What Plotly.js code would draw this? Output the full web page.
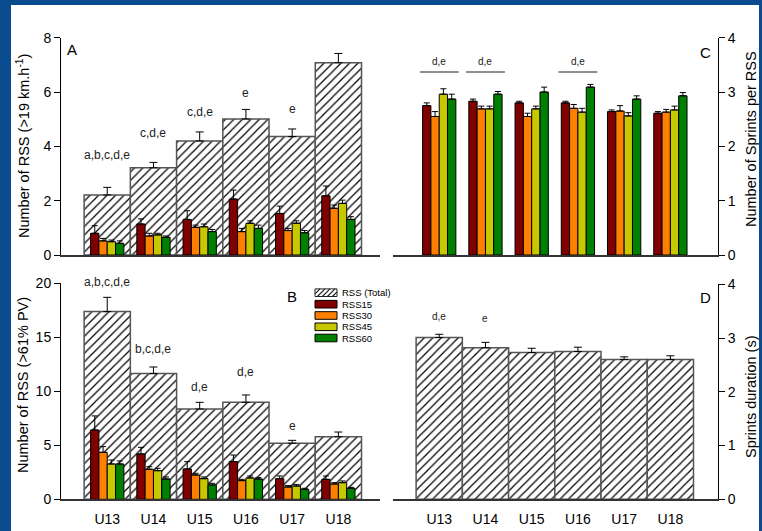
<!DOCTYPE html>
<html>
<head>
<meta charset="utf-8">
<script src="https://cdn.plot.ly/plotly-3.0.1.min.js"></script>
<style>html,body{margin:0;padding:0;background:#0a4a8f;}#plot{width:762px;height:531px;}</style>
</head>
<body>
<div id="plot"></div>
<script>
// ---------- DATA ----------
const categories = ['U13', 'U14', 'U15', 'U16', 'U17', 'U18'];
const seriesNames = ['RSS15', 'RSS30', 'RSS45', 'RSS60'];
const totalName = 'RSS (Total)';

// Panel A: Number of RSS (>19 km.h-1)
const aTotal    = [2.21, 3.21, 4.20, 5.01, 4.36, 7.08];
const aTotalErr = [0.28, 0.20, 0.33, 0.35, 0.28, 0.34];
const a15    = [0.80, 1.14, 1.31, 2.06, 1.53, 2.18];
const a15Err = [0.28, 0.19, 0.32, 0.33, 0.27, 0.36];
const a30    = [0.52, 0.70, 1.02, 0.86, 0.90, 1.72];
const a30Err = [0.09, 0.10, 0.08, 0.12, 0.08, 0.12];
const a45    = [0.49, 0.74, 1.04, 1.17, 1.17, 1.90];
const a45Err = [0.06, 0.06, 0.10, 0.09, 0.09, 0.12];
const a60    = [0.43, 0.65, 0.86, 0.98, 0.82, 1.31];
const a60Err = [0.09, 0.05, 0.08, 0.12, 0.08, 0.10];

// Panel B: Number of RSS (>61% PV)
const bTotal    = [17.38, 11.64, 8.36, 8.98, 5.19, 5.80];
const bTotalErr = [1.32, 0.61, 0.62, 0.68, 0.27, 0.43];
const b15    = [6.42, 4.20, 2.81, 3.49, 1.91, 1.85];
const b15Err = [1.30, 0.61, 0.68, 0.61, 0.25, 0.31];
const b30    = [4.35, 2.78, 2.25, 1.73, 1.14, 1.42];
const b30Err = [0.53, 0.24, 0.16, 0.12, 0.13, 0.12];
const b45    = [3.27, 2.65, 1.91, 1.98, 1.23, 1.54];
const b45Err = [0.37, 0.22, 0.16, 0.18, 0.13, 0.16];
const b60    = [3.27, 1.88, 1.33, 1.88, 0.93, 1.02];
const b60Err = [0.28, 0.19, 0.15, 0.13, 0.09, 0.09];

// Panel C: Number of Sprints per RSS
const c15    = [2.75, 2.83, 2.80, 2.80, 2.64, 2.61];
const c15Err = [0.05, 0.04, 0.03, 0.03, 0.03, 0.03];
const c30    = [2.55, 2.69, 2.55, 2.70, 2.65, 2.63];
const c30Err = [0.09, 0.05, 0.06, 0.07, 0.10, 0.05];
const c45    = [2.96, 2.69, 2.69, 2.63, 2.56, 2.67];
const c45Err = [0.10, 0.05, 0.05, 0.07, 0.06, 0.07];
const c60    = [2.87, 2.96, 3.00, 3.09, 2.87, 2.93];
const c60Err = [0.09, 0.05, 0.09, 0.05, 0.06, 0.06];

// Panel D: Sprints duration (s)
const dTotal    = [3.01, 2.82, 2.73, 2.75, 2.60, 2.60];
const dTotalErr = [0.06, 0.10, 0.08, 0.08, 0.05, 0.07];

// Axis ranges
const aRange = [0, 8];
const bRange = [0, 20];
const cRange = [0, 4];
const dRange = [0, 4];

// Significance labels
const aSigCats = ['U13', 'U14', 'U15', 'U16', 'U17'];
const aSigText = ['a,b,c,d,e', 'c,d,e', 'c,d,e', 'e', 'e'];
const aSigY    = [3.68, 4.48, 5.28, 5.98, 5.36];
const bSigCats = ['U13', 'U14', 'U15', 'U16', 'U17'];
const bSigText = ['a,b,c,d,e', 'b,c,d,e', 'd,e', 'd,e', 'e'];
const bSigY    = [20.15, 13.9, 10.37, 11.79, 6.82];
const cSigCats = ['U13', 'U14', 'U16'];
const cSigText = ['d,e', 'd,e', 'd,e'];
const cSigY    = [3.56, 3.56, 3.56];
const cSigLineY = 3.37;
const dSigCats = ['U13', 'U14'];
const dSigText = ['d,e', 'e'];
const dSigY    = [3.41, 3.37];

// ---------- STYLE ----------
const colors = ['#800000', '#ff8000', '#c8c800', '#008000'];
const FONT = 'Liberation Sans, Arial, Helvetica, sans-serif';
const X = p => p / 762;
const Y = p => 1 - p / 531;
const subOffsets = [-0.36, -0.18, 0, 0.18];
const subWidth = 0.18;

function errUp(arr, w) {
  return {type: 'data', symmetric: false, array: arr, arrayminus: arr.map(() => 0),
          color: '#000', thickness: 1, width: w};
}
function totalTrace(vals, errs, xa, ya, name) {
  return {type: 'bar', x: categories, y: vals, name: name, xaxis: xa, yaxis: ya,
    width: 1, offset: -0.5,
    marker: {color: 'white', line: {color: '#555', width: 1.5},
      pattern: {shape: '/', fgcolor: '#000', bgcolor: 'white', size: 6, solidity: 0.2, fillmode: 'replace'}},
    error_y: errUp(errs, 4), hoverinfo: 'y'};
}
function subTraces(valsList, errList, xa, ya) {
  return valsList.map((v, i) => ({
    type: 'bar', x: categories, y: v, name: seriesNames[i], xaxis: xa, yaxis: ya,
    width: subWidth, offset: subOffsets[i],
    marker: {color: colors[i], line: {color: '#000', width: 1}},
    error_y: errUp(errList[i], 3), hoverinfo: 'y'
  }));
}

const data = [
  totalTrace(aTotal, aTotalErr, 'x', 'y', totalName),
  ...subTraces([a15, a30, a45, a60], [a15Err, a30Err, a45Err, a60Err], 'x', 'y'),
  totalTrace(bTotal, bTotalErr, 'x2', 'y2', totalName),
  ...subTraces([b15, b30, b45, b60], [b15Err, b30Err, b45Err, b60Err], 'x2', 'y2'),
  ...subTraces([c15, c30, c45, c60], [c15Err, c30Err, c45Err, c60Err], 'x3', 'y3'),
  totalTrace(dTotal, dTotalErr, 'x4', 'y4', 'Sprints duration')
];

const xBase = {type: 'category', showline: true, linecolor: '#333', linewidth: 1.5, ticks: '',
  showgrid: false, zeroline: false, fixedrange: true, categoryorder: 'array', categoryarray: categories,
  tickfont: {size: 14, color: '#000', family: FONT}, ticklabelstandoff: 6};
const yBase = {showline: true, linecolor: '#000', linewidth: 1, ticks: 'outside', ticklen: 6, tickwidth: 1,
  tickcolor: '#000', showgrid: false, zeroline: false, fixedrange: true,
  tickfont: {size: 14, color: '#000', family: FONT}};

const annotations = [];
function addText(x, y, text, size, opts) {
  annotations.push(Object.assign({x: x, y: y, xref: 'paper', yref: 'paper', text: text, showarrow: false,
    font: {size: size, color: '#000', family: FONT}, xanchor: 'center', yanchor: 'middle'}, opts || {}));
}
// panel letters
addText(X(72), Y(50), 'A', 15);
addText(X(292), Y(296), 'B', 15);
addText(X(705), Y(52), 'C', 15);
addText(X(705), Y(297), 'D', 15);
// axis titles
addText(X(23), Y(146), 'Number of RSS (>19 km.h<sup>-1</sup>)', 14.5, {textangle: -90});
addText(X(23), Y(385), 'Number of RSS (>61% PV)', 14.5, {textangle: -90});
addText(X(751), Y(139), 'Number of Sprints per RSS', 14.5, {textangle: -90});
addText(X(751), Y(397), 'Sprints duration (s)', 14.5, {textangle: -90});
// significance labels (positioned on the category axis, vertical position via axis-domain fraction)
function addSig(cats, texts, ys, xa, yaName, range, size) {
  cats.forEach((c, i) => annotations.push({x: c, y: (ys[i] - range[0]) / (range[1] - range[0]),
    xref: xa, yref: yaName + ' domain', text: texts[i], showarrow: false,
    font: {size: size, color: '#222', family: FONT}, xanchor: 'center', yanchor: 'middle'}));
}
addSig(aSigCats, aSigText, aSigY, 'x', 'y', aRange, 12);
addSig(bSigCats, bSigText, bSigY, 'x2', 'y2', bRange, 12);
addSig(cSigCats, cSigText, cSigY, 'x3', 'y3', cRange, 10);
addSig(dSigCats, dSigText, dSigY, 'x4', 'y4', dRange, 10);

// legend (manual, compact)
const legNames = [totalName].concat(seriesNames);
const legRowY = [292.7, 304.2, 315.5, 326.8, 338.0];
const shapes = [];
// white canvas inside the blue frame
shapes.push({type: 'rect', xref: 'paper', yref: 'paper', x0: X(11), x1: X(759), y0: -0.01, y1: Y(5),
  fillcolor: 'white', line: {width: 0}, layer: 'below'});
legNames.forEach((n, i) => {
  const cy = legRowY[i];
  const x0 = 315, x1 = 337, y0 = cy - 3.8, y1 = cy + 3.8;
  if (i === 0) {
    shapes.push({type: 'rect', xref: 'paper', yref: 'paper', x0: X(x0), x1: X(x1), y0: Y(y1), y1: Y(y0),
      fillcolor: 'white', line: {color: '#222', width: 1}});
    let path = '';
    const h = y1 - y0;
    for (let s = x0 - h; s < x1; s += 5) {
      let sx = s, sy = y1, ex = s + h, ey = y0;
      if (sx < x0) { sy = y1 - (x0 - sx); sx = x0; }
      if (ex > x1) { ey = y0 + (ex - x1); ex = x1; }
      if (ex <= sx) continue;
      path += 'M' + X(sx) + ',' + Y(sy) + 'L' + X(ex) + ',' + Y(ey);
    }
    shapes.push({type: 'path', xref: 'paper', yref: 'paper', path: path, line: {color: '#222', width: 1.2}});
  } else {
    shapes.push({type: 'rect', xref: 'paper', yref: 'paper', x0: X(x0), x1: X(x1), y0: Y(y1), y1: Y(y0),
      fillcolor: colors[i - 1], line: {color: '#000', width: 1}});
  }
  addText(X(340), Y(cy), n, 9.5, {xanchor: 'left'});
});
// significance underline bars in panel C
cSigCats.forEach(c => {
  const idx = categories.indexOf(c);
  shapes.push({type: 'line', xref: 'x3', yref: 'y3', x0: idx - 0.42, x1: idx + 0.42, y0: cSigLineY, y1: cSigLineY,
    line: {color: '#6a6a6a', width: 1.5}});
});

const layout = {
  width: 762, height: 531, margin: {l: 0, r: 0, t: 0, b: 0, pad: 0},
  paper_bgcolor: '#0a4a8f', plot_bgcolor: 'rgba(0,0,0,0)',
  barmode: 'overlay', showlegend: false,
  font: {family: FONT, size: 14, color: '#000'},
  xaxis:  Object.assign({}, xBase, {domain: [X(61), X(380)], range: [-1, 5.9], anchor: 'y', showticklabels: false}),
  xaxis2: Object.assign({}, xBase, {domain: [X(61), X(380)], range: [-1, 5.9], anchor: 'y2', showticklabels: true}),
  xaxis3: Object.assign({}, xBase, {domain: [X(393), X(718)], range: [-1, 6.03], anchor: 'y3', showticklabels: false}),
  xaxis4: Object.assign({}, xBase, {domain: [X(393), X(718)], range: [-1, 6.03], anchor: 'y4', showticklabels: true}),
  yaxis:  Object.assign({}, yBase, {domain: [Y(255), Y(37.7)], range: aRange, dtick: 2, anchor: 'x'}),
  yaxis2: Object.assign({}, yBase, {domain: [Y(499.3), Y(283.3)], range: bRange, dtick: 5, anchor: 'x2'}),
  yaxis3: Object.assign({}, yBase, {domain: [Y(255), Y(37.7)], range: cRange, dtick: 1, anchor: 'x3', side: 'right'}),
  yaxis4: Object.assign({}, yBase, {domain: [Y(499.3), Y(284.3)], range: dRange, dtick: 1, anchor: 'x4', side: 'right'}),
  annotations: annotations,
  shapes: shapes
};

Plotly.newPlot('plot', data, layout, {displayModeBar: false, staticPlot: true});
</script>
</body>
</html>
